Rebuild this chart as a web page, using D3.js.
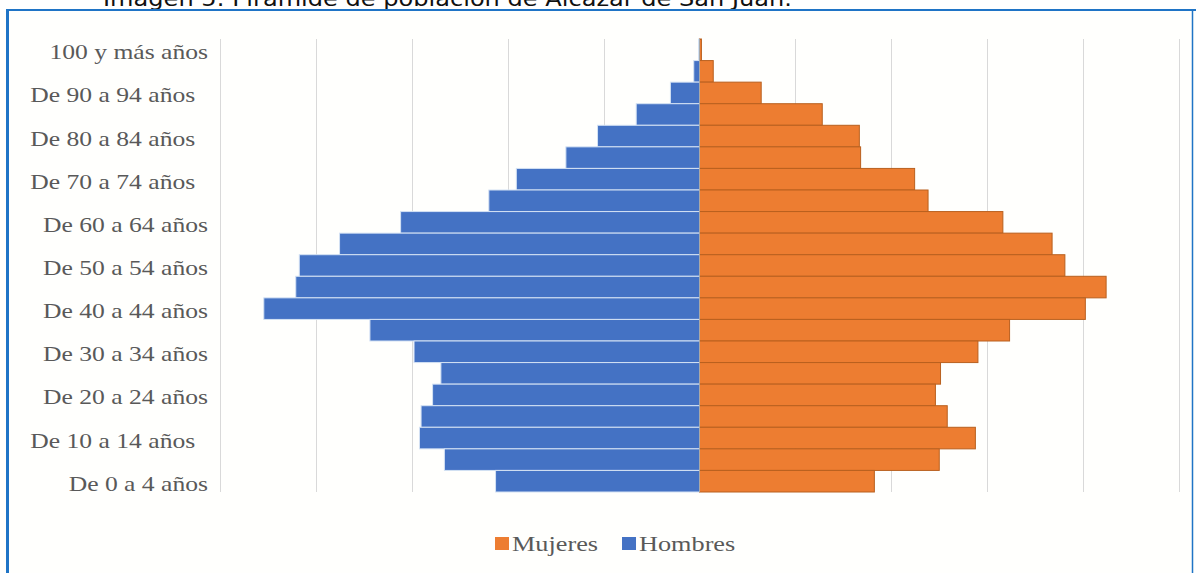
<!DOCTYPE html>
<html>
<head>
<meta charset="utf-8">
<script src="https://cdn.jsdelivr.net/npm/d3@7"></script>
<style>
  html, body { margin: 0; padding: 0; background: #ffffff; }
  svg { display: block; }
  text { white-space: pre; }
</style>
</head>
<body>
<svg id="chart" width="1196" height="573"></svg>
<script>
// ---------- data ----------
const categories = [
  "100 y más años", "De 95 a 99 años", "De 90 a 94 años  ", "De 85 a 89 años",
  "De 80 a 84 años  ", "De 75 a 79 años", "De 70 a 74 años  ", "De 65 a 69 años",
  "De 60 a 64 años", "De 55 a 59 años", "De 50 a 54 años", "De 45 a 49 años",
  "De 40 a 44 años", "De 35 a 39 años", "De 30 a 34 años", "De 25 a 29 años",
  "De 20 a 24 años", "De 15 a 19 años", "De 10 a 14 años  ", "De 5 a 9 años",
  "De 0 a 4 años"
];
const hombres = [3, 18, 91, 198, 319, 418, 573, 659, 935, 1126, 1252, 1263,
                 1363, 1031, 893, 809, 835, 871, 876, 798, 638];
const mujeres = [6, 43, 193, 384, 500, 504, 673, 715, 949, 1103, 1143, 1272,
                 1207, 970, 871, 754, 738, 775, 863, 750, 547];
const gridTicks = [-1500, -1200, -900, -600, -300, 300, 600, 900, 1200, 1500];
const seriesNames = ["Mujeres", "Hombres"];
const title = "Imagen 5: Pirámide de población de Alcázar de San Juan.";

// ---------- layout ----------
const colors = { Mujeres: "#ED7D31", Hombres: "#4472C4" };
const strokes = { Mujeres: "#B9601F", Hombres: "#D4E2F4" };
const stretch = 1.22;
const svg = d3.select("#chart");

// frame + title (title is cropped at the top edge, as in the source image)
svg.append("text")
  .attr("x", 103).attr("y", 6)
  .attr("font-family", "DejaVu Sans, Verdana, sans-serif")
  .attr("font-size", 22).attr("fill", "#111")
  .attr("textLength", 689).attr("lengthAdjust", "spacingAndGlyphs")
  .text(title);
svg.append("rect").attr("x", 0).attr("y", 11).attr("width", 1196).attr("height", 562)
  .attr("fill", "#fffffd");
svg.append("line").attr("x1", 6).attr("x2", 1196).attr("y1", 10).attr("y2", 10)
  .attr("stroke", "#1F74C6").attr("stroke-width", 2.2);
svg.append("line").attr("x1", 7.5).attr("x2", 7.5).attr("y1", 9).attr("y2", 573)
  .attr("stroke", "#1F74C6").attr("stroke-width", 3);
svg.append("line").attr("x1", 1192.5).attr("x2", 1192.5).attr("y1", 9).attr("y2", 573)
  .attr("stroke", "#1F74C6").attr("stroke-width", 1.5);

const x = d3.scaleLinear().domain([-1500, 1500]).range([220, 1179]);
const y = d3.scaleBand().domain(categories).range([39, 492]).padding(0);

// gridlines
const g = svg.append("g");
g.selectAll("line.grid").data(gridTicks).join("line")
  .attr("class", "grid")
  .attr("x1", d => Math.round(x(d)) + 0.5).attr("x2", d => Math.round(x(d)) + 0.5)
  .attr("y1", 39).attr("y2", 492)
  .attr("stroke", "#d9d9d9").attr("stroke-width", 1);

// bars
g.selectAll("rect.h").data(categories).join("rect")
  .attr("class", "h")
  .attr("x", (d, i) => x(-hombres[i]))
  .attr("y", d => y(d))
  .attr("width", (d, i) => x(0) - x(-hombres[i]))
  .attr("height", y.bandwidth())
  .attr("fill", colors.Hombres)
  .attr("stroke", strokes.Hombres).attr("stroke-width", 1);

g.selectAll("rect.m").data(categories).join("rect")
  .attr("class", "m")
  .attr("x", x(0))
  .attr("y", d => y(d))
  .attr("width", (d, i) => x(mujeres[i]) - x(0))
  .attr("height", y.bandwidth())
  .attr("fill", colors.Mujeres)
  .attr("stroke", strokes.Mujeres).attr("stroke-width", 1);

// zero axis
g.append("line")
  .attr("x1", x(0)).attr("x2", x(0)).attr("y1", 39).attr("y2", 492)
  .attr("stroke", "#a8a8a8").attr("stroke-width", 1);

// category labels (every other)
const yAxis = d3.axisLeft(y)
  .tickValues(categories.filter((d, i) => i % 2 === 0))
  .tickSize(0).tickPadding(0);
const ag = svg.append("g").attr("transform", "translate(208,0)").call(yAxis);
ag.select(".domain").remove();
ag.selectAll(".tick text")
  .attr("font-family", "Liberation Serif, Times New Roman, serif")
  .attr("font-size", 21)
  .attr("fill", "#595959")
  .attr("dy", 9.5)
  .attr("transform", `scale(${stretch},1)`);

// legend
const lg = svg.append("g");
let lx = 495;
seriesNames.forEach((name) => {
  lg.append("rect").attr("x", lx).attr("y", 537).attr("width", 14).attr("height", 13)
    .attr("fill", colors[name]);
  const t = lg.append("text")
    .attr("transform", `translate(${lx + 17},551) scale(${stretch + 0.03},1)`)
    .attr("font-family", "Liberation Serif, Times New Roman, serif")
    .attr("font-size", 21).attr("fill", "#595959")
    .text(name);
  const w = t.node().getComputedTextLength() * (stretch + 0.03);
  lx = lx + 17 + w + 24;
});
</script>
</body>
</html>
